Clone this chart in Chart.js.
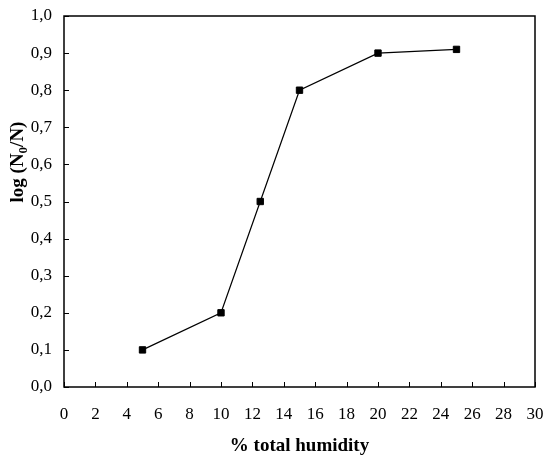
<!DOCTYPE html>
<html><head><meta charset="utf-8">
<script src="https://cdn.jsdelivr.net/npm/chart.js@4"></script>
<style>html,body{margin:0;padding:0;background:#fff}#wrap{width:544px;height:456px}</style>
</head><body><div id="wrap"><canvas id="c" width="544" height="456"></canvas></div>
<script>
const humidity = [5, 10, 12.5, 15, 20, 25];
const logReduction = [0.10, 0.20, 0.50, 0.80, 0.90, 0.91];
const xTitle = '% total humidity';
const yTitleParts = ['log (N', '0', '/N)'];

const frameTicks = {
  id: 'frameTicks',
  afterDatasetsDraw(chart) {
    const {ctx, chartArea: a, scales: {x, y}} = chart;
    ctx.save();
    ctx.strokeStyle = '#000';
    ctx.lineWidth = 1;
    ctx.beginPath();
    x.ticks.forEach(t => {
      const px = Math.round(x.getPixelForValue(t.value)) + 0.5;
      ctx.moveTo(px, a.bottom); ctx.lineTo(px, a.bottom - 5);
    });
    y.ticks.forEach(t => {
      const py = Math.round(y.getPixelForValue(t.value)) + 0.5;
      ctx.moveTo(a.left, py); ctx.lineTo(a.left + 5, py);
    });
    ctx.stroke();
    ctx.lineWidth = 1.5;
    ctx.strokeRect(a.left, a.top, a.right - a.left, a.bottom - a.top);
    ctx.fillStyle = '#000';
    // x title
    ctx.font = 'bold 19px "Liberation Serif"';
    ctx.textAlign = 'center'; ctx.textBaseline = 'alphabetic';
    ctx.fillText(xTitle, (a.left + a.right) / 2, 451);
    // y title with subscript
    ctx.translate(23, 162);
    ctx.rotate(-Math.PI / 2);
    const big = 'bold 19px "Liberation Serif"', small = 'bold 13px "Liberation Serif"';
    ctx.font = big; const w1 = ctx.measureText(yTitleParts[0]).width, w3 = ctx.measureText(yTitleParts[2]).width;
    ctx.font = small; const w2 = ctx.measureText(yTitleParts[1]).width;
    let sx = -(w1 + w2 + w3) / 2;
    ctx.textAlign = 'left';
    ctx.font = big; ctx.fillText(yTitleParts[0], sx, 0); sx += w1;
    ctx.font = small; ctx.fillText(yTitleParts[1], sx, 4); sx += w2;
    ctx.font = big; ctx.fillText(yTitleParts[2], sx, 0);
    ctx.restore();
  }
};

new Chart(document.getElementById('c'), {
  type: 'scatter',
  data: {
    datasets: [{
      data: humidity.map((h, i) => ({x: h, y: logReduction[i]})),
      showLine: true,
      borderColor: '#000',
      borderWidth: 1.2,
      backgroundColor: '#000',
      pointStyle: 'rect',
      pointRadius: 4.5,
      pointBorderWidth: 1,
      pointHoverRadius: 4.5
    }]
  },
  options: {
    responsive: false,
    animation: false,
    devicePixelRatio: 1,
    layout: {padding: {left: 0, top: 16, right: 9, bottom: 0}},
    plugins: {legend: {display: false}, tooltip: {enabled: false}},
    scales: {
      x: {
        type: 'linear', min: 0, max: 30,
        border: {display: false},
        grid: {display: false, drawTicks: false},
        ticks: {stepSize: 2, padding: 17, color: '#000', font: {family: 'Liberation Serif', size: 17}, maxRotation: 0},
        afterFit(s) { s.height = 69; s.paddingLeft = 0; s.paddingRight = 0; }
      },
      y: {
        type: 'linear', min: 0, max: 1,
        border: {display: false},
        grid: {display: false, drawTicks: false},
        ticks: {stepSize: 0.1, padding: 12, color: '#000', font: {family: 'Liberation Serif', size: 17},
          callback: v => v.toFixed(1).replace('.', ',')},
        afterFit(s) { s.width = 64; s.paddingTop = 0; s.paddingBottom = 0; }
      }
    }
  },
  plugins: [frameTicks]
});
</script>
</body></html>
